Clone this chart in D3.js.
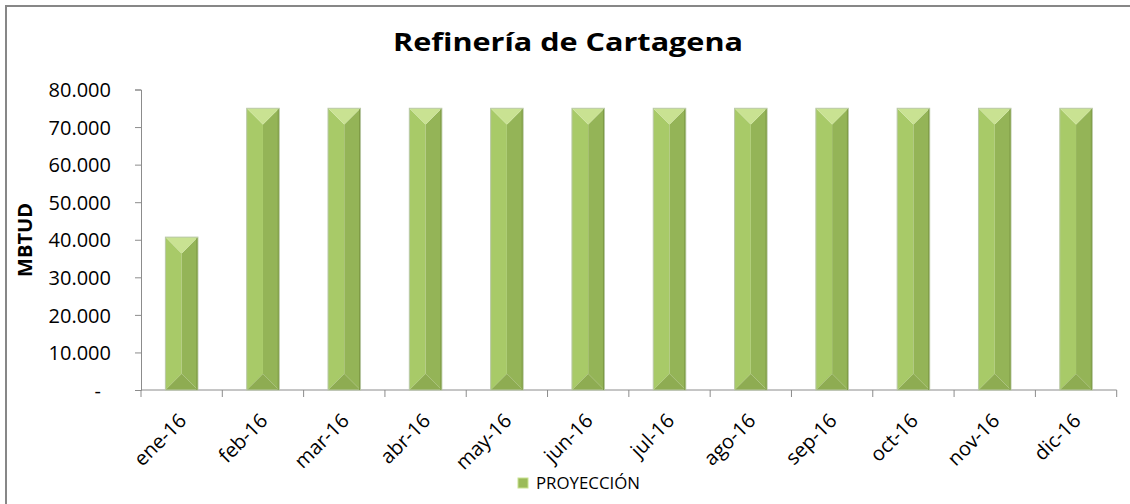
<!DOCTYPE html>
<html>
<head>
<meta charset="utf-8">
<script src="https://cdn.jsdelivr.net/npm/d3@7"></script>
<style>
  body { margin: 0; background: #fff; }
  text { font-family: "Open Sans", "Noto Sans", sans-serif; fill: #000; }
</style>
</head>
<body>
<script>
const months = ['ene-16', 'feb-16', 'mar-16', 'abr-16', 'may-16', 'jun-16',
                'jul-16', 'ago-16', 'sep-16', 'oct-16', 'nov-16', 'dic-16'];
const proyeccion = [40700, 75000, 75000, 75000, 75000, 75000,
                    75000, 75000, 75000, 75000, 75000, 75000];
const yTicks = [0, 10000, 20000, 30000, 40000, 50000, 60000, 70000, 80000];
const title = 'Refinería de Cartagena';
const yTitle = 'MBTUD';
const seriesName = 'PROYECCIÓN';

const w = 1130, h = 504;
const m = {left: 141, right: 13.3, top: 89.5, bottom: 114};

const svg = d3.select('body').append('svg')
    .attr('width', w)
    .attr('height', h);

// chart frame (runs off the right and bottom edge)
svg.append('rect')
    .attr('x', 6).attr('y', 6)
    .attr('width', w + 20).attr('height', h + 20)
    .attr('fill', 'none')
    .attr('stroke', '#878787')
    .attr('stroke-width', 2);

const x = d3.scaleBand()
    .domain(months)
    .range([m.left, w - m.right])
    .paddingInner(0.6)
    .paddingOuter(0.3);

const y = d3.scaleLinear()
    .domain([0, 80000])
    .range([h - m.bottom, m.top]);

const loc = d3.formatLocale({decimal: ',', thousands: '.', grouping: [3], currency: ['$', '']});
const fmt = loc.format(',.0f');

// y axis
const yAxis = svg.append('g')
    .attr('transform', 'translate(' + m.left + ',0)')
    .call(d3.axisLeft(y).tickValues(yTicks).tickSize(6).tickPadding(24)
      .tickFormat(d => d === 0 ? '-' : fmt(d)));
yAxis.selectAll('text')
    .style('font-size', '20px')
    .attr('dy', '0.36em')
    .attr('x', d => d === 0 ? -40 : -30);
yAxis.selectAll('line,path').attr('stroke', '#8c8c8c');

// x axis: ticks on the category boundaries
const xAxisG = svg.append('g')
    .attr('transform', 'translate(0,' + (h - m.bottom) + ')');
xAxisG.append('line')
    .attr('x1', m.left).attr('x2', w - m.right)
    .attr('stroke', '#8c8c8c');
const step = x.step();
xAxisG.selectAll('line.tick')
    .data(d3.range(months.length + 1))
    .enter().append('line')
    .attr('class', 'tick')
    .attr('x1', i => m.left + i * step)
    .attr('x2', i => m.left + i * step)
    .attr('y1', 0).attr('y2', 7)
    .attr('stroke', '#8c8c8c');
xAxisG.selectAll('text')
    .data(months)
    .enter().append('text')
    .attr('transform', d => 'translate(' + (x(d) + x.bandwidth() / 2 + 6) + ',32) rotate(-45)')
    .attr('text-anchor', 'end')
    .style('font-size', '20px')
    .text(d => d);

// bars with a bevel look
const bars = svg.append('g').selectAll('g.bar')
    .data(months.map((mo, i) => ({mo: mo, v: proyeccion[i]})))
    .enter().append('g')
    .attr('class', 'bar');

bars.each(function(d) {
  const g = d3.select(this);
  const x0 = x(d.mo), bw = x.bandwidth(), x1 = x0 + bw, cx = x0 + bw / 2;
  const y0 = y(d.v), yb = y(0), bv = bw / 2;
  const pts = p => p.map(q => q.join(',')).join(' ');
  g.append('polygon').attr('fill', '#a8ca68')
    .attr('points', pts([[x0, y0], [cx, y0 + bv], [cx, yb - bv], [x0, yb]]));
  g.append('polygon').attr('fill', '#94b457')
    .attr('points', pts([[x1, y0], [cx, y0 + bv], [cx, yb - bv], [x1, yb]]));
  g.append('polygon').attr('fill', '#c9e292')
    .attr('points', pts([[x0, y0], [x1, y0], [cx, y0 + bv]]));
  g.append('polygon').attr('fill', '#8eac52')
    .attr('points', pts([[x0, yb], [x1, yb], [cx, yb - bv]]));
  g.append('rect')
    .attr('x', x0).attr('y', y0)
    .attr('width', bw).attr('height', yb - y0)
    .attr('fill', 'none')
    .attr('stroke', '#b9c8a6')
    .attr('stroke-width', 1);
  g.append('line')
    .attr('x1', x1 - 1).attr('x2', x1 - 1)
    .attr('y1', y0 + 1).attr('y2', yb)
    .attr('stroke', '#7e9a45');
});

// title
svg.append('text')
    .attr('x', 568).attr('y', 51)
    .attr('text-anchor', 'middle')
    .style('font-size', '25px')
    .style('font-weight', 'bold')
    .attr('textLength', 350)
    .attr('lengthAdjust', 'spacingAndGlyphs')
    .text(title);

// y title
svg.append('text')
    .attr('transform', 'translate(32,240) rotate(-90)')
    .attr('text-anchor', 'middle')
    .style('font-size', '19px')
    .style('font-weight', 'bold')
    .attr('textLength', 74)
    .attr('lengthAdjust', 'spacingAndGlyphs')
    .text(yTitle);

// legend
const lg = svg.append('g').attr('transform', 'translate(518,478)');
lg.append('rect')
    .attr('width', 10).attr('height', 10)
    .attr('fill', '#9bbb59')
    .attr('stroke', '#c9e292');
lg.append('text')
    .attr('x', 18).attr('y', 11)
    .style('font-size', '16px')
    .attr('textLength', 104)
    .attr('lengthAdjust', 'spacingAndGlyphs')
    .text(seriesName);
</script>
</body>
</html>
